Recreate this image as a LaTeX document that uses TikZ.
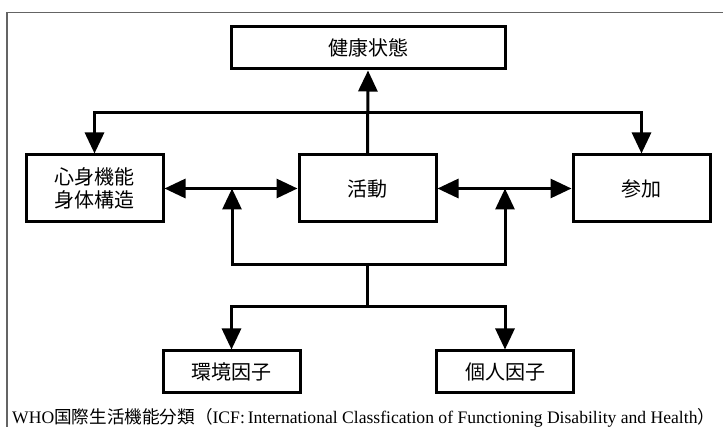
\documentclass[tikz,border=0pt]{standalone}
\usepackage{fontspec}
\setmainfont{Liberation Serif}
\newfontfamily\jp{Noto Sans CJK JP}
\usetikzlibrary{arrows.meta}
\definecolor{framecol}{RGB}{100,100,100}
\begin{document}
\begin{tikzpicture}[x=1pt,y=-1pt,
  box/.style={draw, line width=3pt, inner sep=0pt, align=center,
    minimum width=137pt, font=\jp\fontsize{20}{23}\selectfont},
  conn/.style={line width=3pt},
  arr/.style={-{Triangle[length=21pt,width=19pt]}},
  arrboth/.style={{Triangle[length=21pt,width=19pt]}-{Triangle[length=21pt,width=19pt]}},
  caption/.style={anchor=west, inner sep=0pt, font=\fontsize{17.6}{20}\selectfont},
]
\useasboundingbox (0,0) rectangle (723,427);
\draw[framecol, line width=1.5pt] (7,427) -- (7,12.5) -- (723,12.5);

\node[box, minimum width=274pt, minimum height=42pt] (kenko) at (368,48) {健康状態};
\node[box, minimum height=67pt] (shinshin) at (94.5,188.5) {心身機能\\身体構造};
\node[box, minimum height=67pt] (katsudo) at (367.5,188.5) {活動};
\node[box, minimum height=67pt] (sanka) at (641.5,188.5) {参加};
\node[box, minimum height=42pt] (kankyo) at (231.5,372) {環境因子};
\node[box, minimum height=42pt] (kojin) at (505,372) {個人因子};

\coordinate (top) at (367.5,112.5);
\coordinate (mid) at (367.5,265);
\coordinate (low) at (367.5,307);
\coordinate (up1) at (232,188.5);
\coordinate (up2) at (505,188.5);

\draw[conn,arr] (katsudo.north) -- (kenko.south);
\draw[conn,arr] (top) -| (shinshin.north);
\draw[conn,arr] (top) -| (sanka.north);
\draw[conn,arrboth] (shinshin.east) -- (katsudo.west);
\draw[conn,arrboth] (katsudo.east) -- (sanka.west);
\draw[conn,arr] (mid) -| (up1);
\draw[conn,arr] (mid) -| (up2);
\draw[conn] (mid) -- (low);
\draw[conn,arr] (low) -| (kankyo.north);
\draw[conn,arr] (low) -| (kojin.north);

\node[caption] (cap) at (12,418) {WHO{\jp 国際生活機能分類（}ICF:\,International Classfication of Functioning Disability and Health{\jp ）}};
\end{tikzpicture}
\end{document}
